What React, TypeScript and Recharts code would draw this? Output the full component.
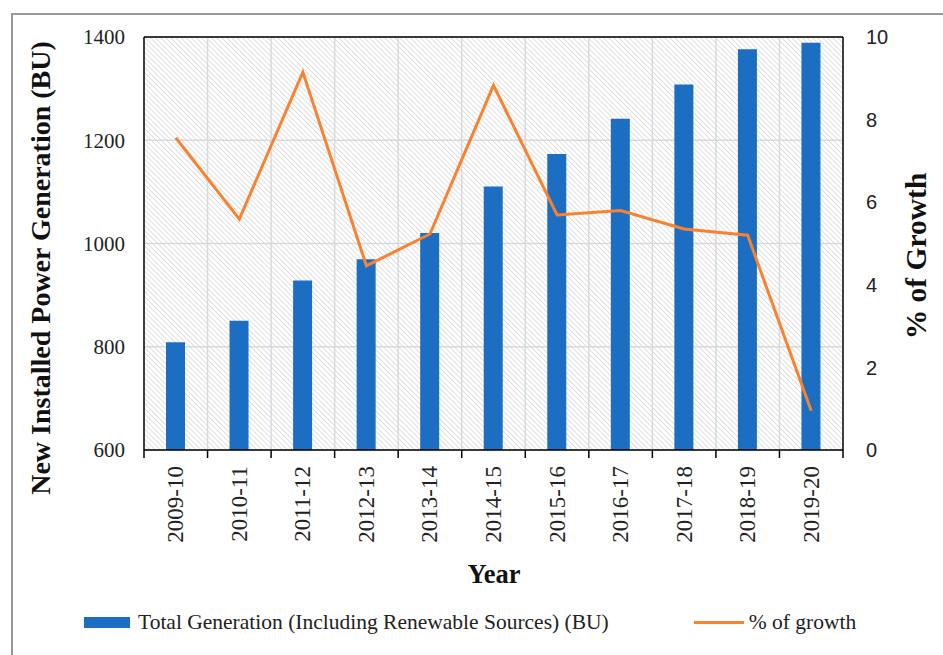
import React from "react";
import {
  ComposedChart,
  Bar,
  Line,
  XAxis,
  YAxis,
  CartesianGrid,
  ReferenceLine,
} from "recharts";

const years = [
  "2009-10", "2010-11", "2011-12", "2012-13", "2013-14", "2014-15",
  "2015-16", "2016-17", "2017-18", "2018-19", "2019-20",
];
const generation = [808.5, 850.4, 928.1, 969.5, 1020.2, 1110.5, 1173.6, 1241.7, 1308.1, 1376.1, 1389.1];
const growth = [7.56, 5.59, 9.15, 4.46, 5.23, 8.83, 5.69, 5.8, 5.35, 5.2, 0.95];
const leftTicks = [600, 800, 1000, 1200, 1400];
const rightTicks = [0, 2, 4, 6, 8, 10];

const data = years.map((year, i) => ({
  year,
  total: generation[i],
  growth: growth[i],
}));

const W = 943;
const H = 655;
const PLOT_LEFT = 144;
const PLOT_RIGHT = 843;
const BAND = (PLOT_RIGHT - PLOT_LEFT) / years.length;

const serif = "'Liberation Serif', 'Times New Roman', serif";
const sans = "'Liberation Sans', Arial, sans-serif";
const BLUE = "#1B6EC2";
const ORANGE = "#F98231";

// year label rotated, tick marks sit on the category boundaries
const YearTick = (props: any) => {
  const { x, y, payload, index } = props;
  const half = BAND / 2;
  return (
    <g transform={`translate(${x},${y})`}>
      <line x1={-half} y1={0} x2={-half} y2={8} stroke="#000" strokeWidth={1.5} />
      {index === years.length - 1 && (
        <line x1={half} y1={0} x2={half} y2={8} stroke="#000" strokeWidth={1.5} />
      )}
      <text
        transform="translate(0,16) rotate(-90)"
        textAnchor="end"
        dominantBaseline="central"
        fontFamily={serif}
        fontSize={23}
        fill="#222"
      >
        {payload.value}
      </text>
    </g>
  );
};

const boundaries = ({ offset }: any) => {
  const left = offset?.left ?? PLOT_LEFT;
  const width = offset?.width ?? PLOT_RIGHT - PLOT_LEFT;
  const out: number[] = [];
  for (let k = 1; k < years.length; k++) out.push(left + (k * width) / years.length);
  return out;
};

export default function App() {
  return (
    <div style={{ position: "absolute", left: 0, top: 0, width: W, height: H, overflow: "hidden", background: "#fff" }}>
      <svg width={0} height={0} style={{ position: "absolute" }}>
        <defs>
          <pattern id="hatch" patternUnits="userSpaceOnUse" width={3.6} height={3.6} patternTransform="rotate(-45)">
            <rect width={3.6} height={3.6} fill="#ffffff" />
            <line x1={0} y1={0} x2={0} y2={3.6} stroke="#cdcdcd" strokeWidth={1.2} />
          </pattern>
        </defs>
      </svg>

      <div
        style={{
          position: "absolute",
          left: 11,
          top: 13,
          width: W,
          height: H,
          borderTop: "2px solid #9a9a9a",
          borderLeft: "2px solid #9a9a9a",
        }}
      />

      <div style={{ position: "absolute", left: 0, top: 0 }}>
        <ComposedChart
          width={W}
          height={H}
          data={data}
          margin={{ top: 37, right: 0, left: 0, bottom: 0 }}
          barSize={19}
        >
          <CartesianGrid
            yAxisId="left"
            fill="url(#hatch)"
            fillOpacity={1}
            stroke="#d9d9d9"
            strokeWidth={1.5}
            verticalCoordinatesGenerator={boundaries}
          />
          <XAxis
            dataKey="year"
            height={H - 450}
            tickLine={false}
            tickSize={0}
            tickMargin={0}
            interval={0}
            tick={<YearTick />}
            axisLine={{ stroke: "#000", strokeWidth: 1.5 }}
          />
          <YAxis
            yAxisId="left"
            width={PLOT_LEFT}
            domain={[600, 1400]}
            ticks={leftTicks}
            allowDataOverflow
            tickLine={false}
            tickMargin={13}
            axisLine={{ stroke: "#000", strokeWidth: 1.5 }}
            tick={{ fill: "#222", fontSize: 21, fontFamily: serif }}
          />
          <YAxis
            yAxisId="right"
            orientation="right"
            width={W - PLOT_RIGHT}
            domain={[0, 10]}
            ticks={rightTicks}
            tickLine={false}
            tickMargin={17}
            axisLine={{ stroke: "#000", strokeWidth: 1.5 }}
            tick={{ fill: "#222", fontSize: 20, fontFamily: sans }}
          />
          <ReferenceLine yAxisId="left" y={1400} stroke="#000" strokeWidth={1.5} />
          <Bar yAxisId="left" dataKey="total" fill={BLUE} isAnimationActive={false} />
          <Line
            yAxisId="right"
            dataKey="growth"
            stroke={ORANGE}
            strokeWidth={3}
            dot={false}
            type="linear"
            isAnimationActive={false}
          />
        </ComposedChart>
      </div>

      <svg width={W} height={H} style={{ position: "absolute", left: 0, top: 0, pointerEvents: "none" }}>
        <text
          transform="translate(40,268) rotate(-90)"
          textAnchor="middle"
          dominantBaseline="central"
          fontFamily={serif}
          fontWeight="bold"
          fontSize={28}
          fill="#111"
        >
          New Installed Power Generation (BU)
        </text>
        <text
          transform="translate(916,256) rotate(-90)"
          textAnchor="middle"
          dominantBaseline="central"
          fontFamily={serif}
          fontWeight="bold"
          fontSize={29.5}
          fill="#111"
        >
          % of Growth
        </text>
        <text
          x={494}
          y={574}
          textAnchor="middle"
          dominantBaseline="central"
          fontFamily={serif}
          fontWeight="bold"
          fontSize={26.5}
          fill="#111"
        >
          Year
        </text>
      </svg>

      <div
        style={{
          position: "absolute",
          left: 84,
          top: 610,
          fontFamily: serif,
          fontSize: 21.5,
          color: "#222",
          display: "flex",
          alignItems: "center",
          whiteSpace: "nowrap",
        }}
      >
        <span style={{ display: "inline-block", width: 46, height: 11, background: BLUE, marginRight: 8 }} />
        <span>Total Generation (Including Renewable Sources) (BU)</span>
        <span style={{ display: "inline-block", width: 50, height: 3, background: ORANGE, marginLeft: 85, marginRight: 5 }} />
        <span>% of growth</span>
      </div>
    </div>
  );
}
